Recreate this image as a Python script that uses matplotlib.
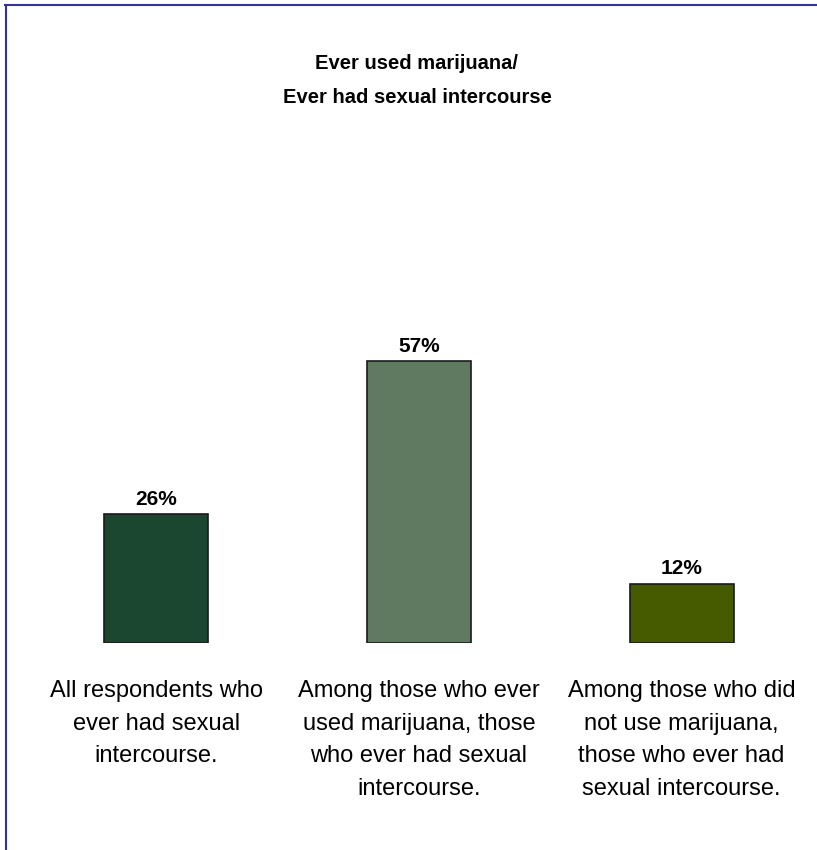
import matplotlib.pyplot as plt
from matplotlib.lines import Line2D

categories = ["All respondents who\never had sexual\nintercourse.",
              "Among those who ever\nused marijuana, those\nwho ever had sexual\nintercourse.",
              "Among those who did\nnot use marijuana,\nthose who ever had\nsexual intercourse."]
values = [26, 57, 12]
colors = ["#1b4731", "#607a61", "#465a00"]

plt.rcParams['font.family'] = ['Liberation Sans Narrow', 'Liberation Sans', 'DejaVu Sans']

fig = plt.figure(figsize=(8.17, 8.5), dpi=100)
ax = fig.add_axes([25 / 817, 207 / 850, 788 / 817, 494.7 / 850])

x = range(len(values))
ax.bar(x, values, width=0.396, color=colors, edgecolor="#1a1a1a", linewidth=1.2)
for xi, v in zip(x, values):
    ax.text(xi, v + 1.1, f"{v}%", ha="center", va="bottom", fontsize=15, fontweight="bold")
for xi, lab in zip(x, categories):
    ax.text(xi, -7.5, lab, ha="center", va="top", fontsize=17, linespacing=1.62)

ax.set_xlim(-0.5, 2.5)
ax.set_ylim(0, 100)
ax.axis("off")

fig.text(417 / 817, 1 - 80.5 / 850, "Ever used marijuana/\nEver had sexual intercourse",
         ha="center", va="center", fontsize=14.5, fontweight="bold", linespacing=2.0)

fig.add_artist(Line2D([5 / 817, 1], [1 - 4.5 / 850] * 2, color="#333399", linewidth=1.5))
fig.add_artist(Line2D([5.5 / 817] * 2, [0, 1 - 4.5 / 850], color="#333399", linewidth=1.5))

fig.savefig("out.png", dpi=100)
